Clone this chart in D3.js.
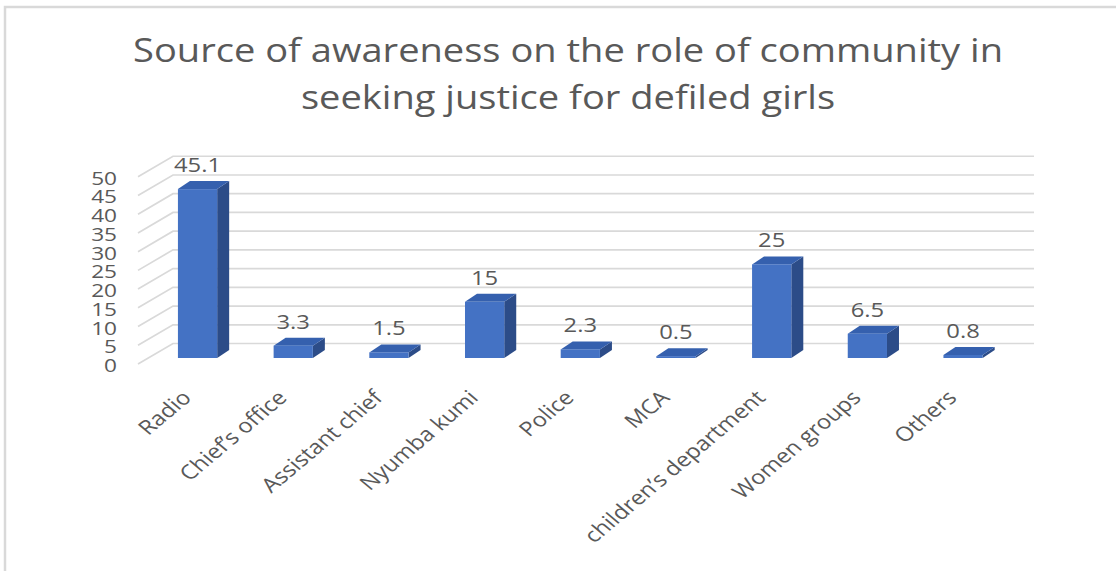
<!DOCTYPE html>
<html>
<head>
<meta charset="utf-8">
<script src="https://cdn.jsdelivr.net/npm/d3@7/dist/d3.min.js"></script>
<style>
  html, body { margin: 0; padding: 0; background: #ffffff; }
  svg { display: block; }
  text { font-family: "Open Sans", "Noto Sans", sans-serif; fill: #595959; }
</style>
</head>
<body>
<svg id="chart" width="1116" height="571"></svg>
<script>
// Survey responses: where respondents heard about the community's role
const categories = ["Radio", "Chief\u2019s office", "Assistant chief", "Nyumba kumi", "Police",
                    "MCA", "children\u2019s department", "Women groups", "Others"];
const values = [45.1, 3.3, 1.5, 15, 2.3, 0.5, 25, 6.5, 0.8];
const yTicks = [0, 5, 10, 15, 20, 25, 30, 35, 40, 45, 50];
const titleLines = ["Source of awareness on the role of community in",
                    "seeking justice for defiled girls"];

const svg = d3.select("#chart");
const W = 1116, H = 571;
const textStretch = 1.19;           // horizontal text stretch of the layout

// outer frame
svg.append("path")
  .attr("d", `M5,${H + 5} L5,7 L${W + 5},7`)
  .attr("fill", "none")
  .attr("stroke", "#d9d9d9")
  .attr("stroke-width", 2.5);

// title
const title = svg.append("g");
titleLines.forEach((line, i) => {
  title.append("text")
    .attr("transform", `translate(568,${62 + i * 47}) scale(${textStretch},1)`)
    .attr("text-anchor", "middle")
    .attr("font-size", 32)
    .text(line);
});

// 3-D layout: front plane, wall depth and bar depth
const frontLeft = 138;                 // left edge of front plane
const wallDepth = [35, -20.5];         // offset from front plane to back wall
const barOffset = [10, -6];            // front face of bars, from front plane
const barDepth = [12, -8];             // thickness of each column
const backRight = 1034;

const y = d3.scaleLinear().domain([0, 50]).range([364, 364 - 187.25]);
const x = d3.scaleBand()
  .domain(categories)
  .range([149.7, 1010.9])
  .paddingInner(0.59)
  .paddingOuter(0.295);

// gridlines: side wall diagonals + back wall horizontals
const grid = svg.append("g")
  .attr("stroke", "#d9d9d9")
  .attr("stroke-width", 1.7)
  .attr("fill", "none");
yTicks.forEach(t => {
  const yf = y(t);
  const xb = frontLeft + wallDepth[0], yb = yf + wallDepth[1];
  grid.append("path")
    .attr("d", `M${frontLeft},${yf} L${xb},${yb} L${backRight},${yb}`);
});

// y axis tick labels
const yAxis = svg.append("g");
yTicks.forEach(t => {
  yAxis.append("text")
    .attr("transform", `translate(117,${y(t) + 8}) scale(${textStretch},1)`)
    .attr("text-anchor", "end")
    .attr("font-size", 19)
    .text(t);
});

// columns
const bars = svg.append("g");
const yb0 = v => y(v) + barOffset[1];
categories.forEach((c, i) => {
  const v = values[i];
  const xl = x(c), xr = x(c) + x.bandwidth();
  const yt = yb0(v), ybot = yb0(0);
  const [dx, dy] = barDepth;
  const g = bars.append("g");
  // side face
  g.append("path")
    .attr("d", `M${xr},${yt} L${xr + dx},${yt + dy} L${xr + dx},${ybot + dy} L${xr},${ybot} Z`)
    .attr("fill", "#2c4c88");
  // top face
  g.append("path")
    .attr("d", `M${xl},${yt} L${xr},${yt} L${xr + dx},${yt + dy} L${xl + dx},${yt + dy} Z`)
    .attr("fill", "#3560ae");
  // front face
  g.append("rect")
    .attr("x", xl).attr("y", yt)
    .attr("width", x.bandwidth()).attr("height", Math.max(0, ybot - yt))
    .attr("fill", "#4472c4");
});

// data labels
const labels = svg.append("g");
categories.forEach((c, i) => {
  labels.append("text")
    .attr("transform", `translate(${x(c) + x.bandwidth() / 2},${yb0(values[i]) - 17}) scale(${textStretch},1)`)
    .attr("text-anchor", "middle")
    .attr("font-size", 20)
    .text(values[i]);
});

// category labels, rotated
const xAxis = svg.append("g");
categories.forEach(c => {
  xAxis.append("text")
    .attr("transform", `translate(${x(c) + x.bandwidth() / 2 - 5},399) scale(${textStretch},1) rotate(-45)`)
    .attr("text-anchor", "end")
    .attr("font-size", 20)
    .text(c);
});
</script>
</body>
</html>
